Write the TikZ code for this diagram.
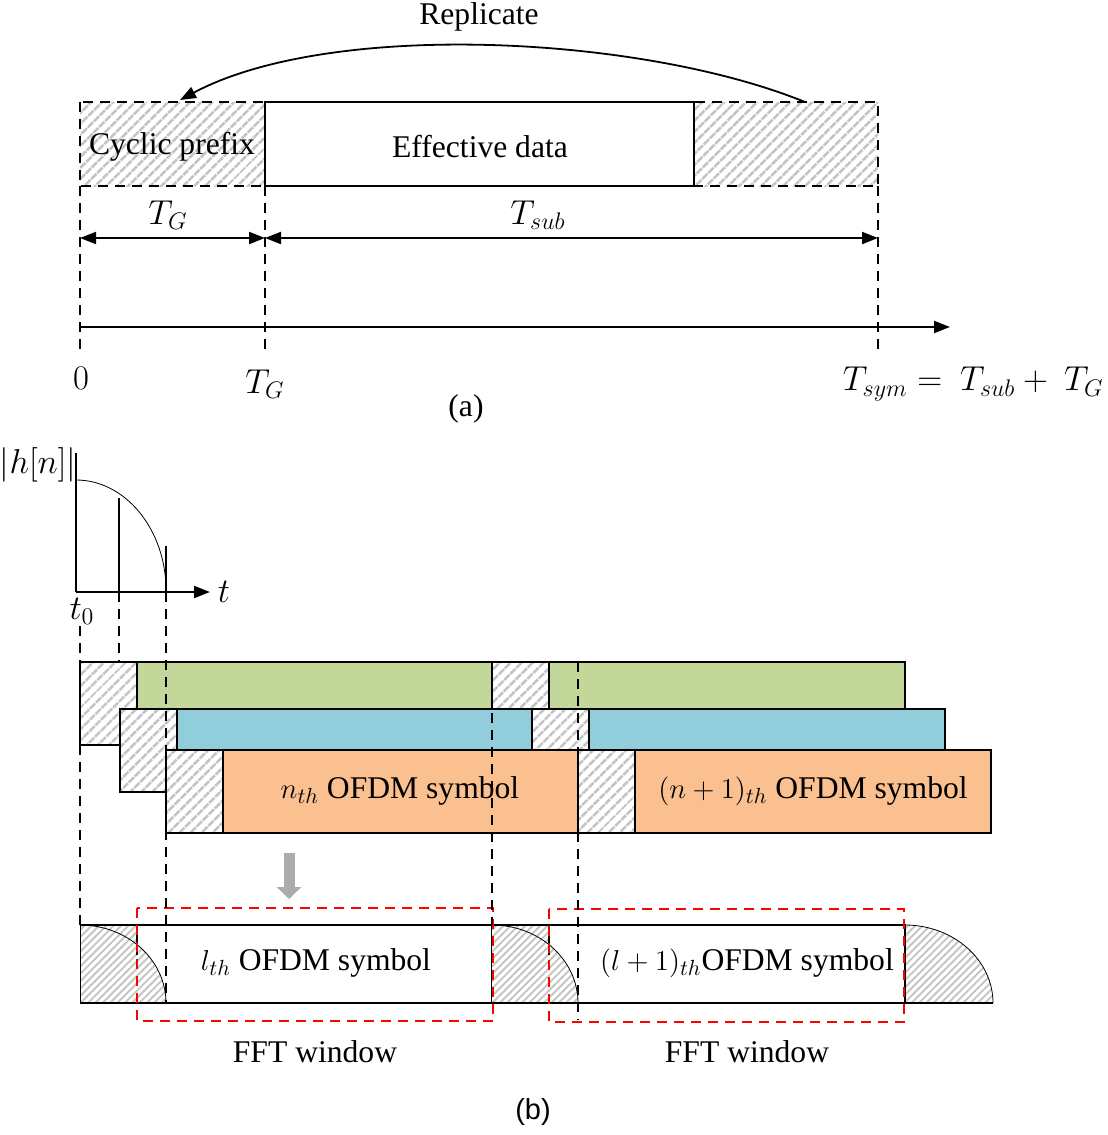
\documentclass[tikz,border=0pt]{standalone}
\usepackage{fontspec}
\setmainfont{Liberation Serif}
\setsansfont{Liberation Sans}
\usetikzlibrary{patterns.meta,arrows.meta}
\definecolor{symgreen}{HTML}{C4D79B}
\definecolor{symblue}{HTML}{92CDDC}
\definecolor{symorange}{HTML}{FAC090}
\definecolor{hatchgray}{HTML}{C4C4C4}
\begin{document}
\begin{tikzpicture}[x=0.5pt,y=-0.5pt,
  font=\fontsize{15.8}{19}\selectfont,
  hatchA/.style={pattern={Lines[angle=45,distance=4pt,line width=1.4pt]},pattern color=hatchgray},
  hatchB/.style={pattern={Lines[angle=45,distance=2.6pt,line width=0.95pt]},pattern color=hatchgray},
  boxline/.style={draw=black,line width=1.2pt},
  dline/.style={line width=1pt,dash pattern=on 5pt off 3.5pt},
  reddash/.style={draw=red,line width=1pt,dash pattern=on 5pt off 3.5pt},
  tip/.style={-{Triangle[length=8pt,width=6pt]}},
  dtip/.style={{Triangle[length=8pt,width=6pt]}-{Triangle[length=8pt,width=6pt]}},
  lbl/.style={inner sep=0pt,anchor=center},
  mlbl/.style={inner sep=0pt,anchor=center,font=\fontsize{17}{20}\selectfont}]
\useasboundingbox (0,0) rectangle (1108,1135);

% ================= (a) =================
\fill[white] (80,102) rectangle (878,186);
\fill[hatchA] (80,102) rectangle (265,186);
\fill[hatchA] (694,102) rectangle (878,186);
\draw[dline] (80,102) rectangle (878,186);
\draw[boxline,fill=white] (265,102) rectangle (694,186);
\node[lbl] (cp) at (172,147) {Cyclic prefix};
\node[lbl] (ed) at (480,147) {Effective data};

\coordinate (repS) at (805,102);
\coordinate (repE) at (180,100);
\draw[line width=0.9pt,-{Triangle[length=8pt,width=6pt]}] (repS) .. controls (640,35) and (330,20) .. (repE);
\node[lbl] (rep) at (479,17) {Replicate};

\coordinate (a0) at (80,186);
\coordinate (a1) at (265,186);
\coordinate (a2) at (878,186);
\coordinate (b0) at (80,355);
\coordinate (b1) at (265,355);
\coordinate (b2) at (878,355);
\draw[dline] (a0) -- (b0);
\draw[dline] (a1) -- (b1);
\draw[dline] (a2) -- (b2);

\coordinate (d0) at (80,238);
\coordinate (d1) at (265,238);
\coordinate (d2) at (878,238);
\draw[line width=1pt,dtip] (d0) -- (d1);
\draw[line width=1pt,dtip] (d1) -- (d2);
\node[mlbl] (tg1) at (168,215) {$T_G$};
\node[mlbl] (tsub) at (538,215) {$T_{sub}$};

\coordinate (ax0) at (80,327);
\coordinate (ax1) at (950,327);
\draw[line width=1pt,tip] (ax0) -- (ax1);
\node[mlbl] (zero) at (81,378) {$0$};
\node[mlbl] (tg2) at (265,384) {$T_G$};
\node[mlbl,anchor=east] (tsym) at (1104,384) {$T_{sym} =\ T_{sub} +\ T_G$};
\node[lbl] (capa) at (466,409) {(a)};

% ================= (b) =================
% impulse response
\coordinate (h0) at (76,453);
\coordinate (o) at (76,592);
\coordinate (tx) at (210,592);
\draw[line width=1.1pt] (h0) -- (o);
\draw[line width=1pt,tip] (o) -- (tx);
\coordinate (i1t) at (119,498);
\coordinate (i1b) at (119,592);
\coordinate (i2t) at (166,546);
\coordinate (i2b) at (166,592);
\draw[line width=1.1pt] (i1t) -- (i1b);
\draw[line width=1.1pt] (i2t) -- (i2b);
\draw[line width=0.4pt] (76,480) .. controls (125.7,480) and (166,530) .. (166,590);
\node[mlbl] (hn) at (38,465) {$|h[n]|$};
\node[mlbl] (t) at (224,592) {$t$};
\node[mlbl] (t0) at (82,611) {$t_0$};

% row 1 (green)
\fill[white] (80,662) rectangle (137,745);
\fill[hatchA] (80,662) rectangle (137,745);
\draw[boxline] (80,662) rectangle (137,745);
\draw[boxline,fill=symgreen] (137,662) rectangle (492,745);
\fill[white] (492,662) rectangle (549,745);
\fill[hatchA] (492,662) rectangle (549,745);
\draw[boxline] (492,662) rectangle (549,745);
\draw[boxline,fill=symgreen] (549,662) rectangle (905,745);

% row 2 (blue)
\fill[white] (120,709) rectangle (177,792);
\fill[hatchA] (120,709) rectangle (177,792);
\draw[boxline] (120,709) rectangle (177,792);
\draw[boxline,fill=symblue] (177,709) rectangle (532,792);
\fill[white] (532,709) rectangle (589,792);
\fill[hatchA] (532,709) rectangle (589,792);
\draw[boxline] (532,709) rectangle (589,792);
\draw[boxline,fill=symblue] (589,709) rectangle (945,792);

% row 3 (orange)
\fill[white] (166,750) rectangle (223,833);
\fill[hatchA] (166,750) rectangle (223,833);
\draw[boxline] (166,750) rectangle (223,833);
\draw[boxline,fill=symorange] (223,750) rectangle (578,833);
\fill[white] (578,750) rectangle (635,833);
\fill[hatchA] (578,750) rectangle (635,833);
\draw[boxline] (578,750) rectangle (635,833);
\draw[boxline,fill=symorange] (635,750) rectangle (991,833);
\node[lbl] (nsym) at (400,791) {$n_{th}$ OFDM symbol};
\node[lbl] (n1sym) at (813,791) {$(n+1)_{th}$ OFDM symbol};

% gray arrow
\coordinate (ga0) at (289,853);
\coordinate (ga1) at (289,899);
\draw[line width=5.5pt,draw=gray!65,-{Triangle[length=6pt,width=12pt]}] (ga0) -- (ga1);

% bottom row
\draw[boxline,fill=white] (137,925) rectangle (492,1003);
\draw[boxline,fill=white] (549,925) rectangle (905,1003);
\fill[white] (80,925) -- (137,925) -- (137,1003) -- (80,1003) -- cycle;
\fill[hatchB] (80,925) -- (137,925) -- (137,1003) -- (80,1003) -- cycle;
\fill[white] (80,925) .. controls (127.5,925) and (166,960) .. (166,1003) -- (80,1003) -- cycle;
\fill[hatchB] (80,925) .. controls (127.5,925) and (166,960) .. (166,1003) -- (80,1003) -- cycle;
\draw[line width=0.4pt] (80,925) .. controls (127.5,925) and (166,960) .. (166,1003);
\draw[line width=0.4pt] (80,925) -- (80,1003);
\draw[boxline] (80,925) -- (137,925) -- (137,955);

\fill[white] (492,925) rectangle (549,1003);
\fill[hatchB] (492,925) rectangle (549,1003);
\fill[white] (492,925) .. controls (539.5,925) and (578,960) .. (578,1003) -- (492,1003) -- cycle;
\fill[hatchB] (492,925) .. controls (539.5,925) and (578,960) .. (578,1003) -- (492,1003) -- cycle;
\draw[line width=0.4pt] (492,925) .. controls (539.5,925) and (578,960) .. (578,1003);
\draw[boxline] (492,925) -- (549,925) -- (549,955);

\fill[hatchB] (905,925) .. controls (953.6,925) and (993,960) .. (993,1003) -- (905,1003) -- cycle;
\draw[line width=0.4pt] (905,925) .. controls (953.6,925) and (993,960) .. (993,1003);
\draw[boxline] (905,925) -- (905,1003);
\draw[boxline] (80,1003) -- (993,1003);

\node[lbl] (lsym) at (316,963) {$l_{th}$ OFDM symbol};
\node[lbl] (l1sym) at (747,963) {$(l+1)_{th}$OFDM symbol};

% FFT windows
\draw[reddash] (137,908) rectangle (493,1021);
\draw[reddash] (549,909) rectangle (904,1022);
\node[lbl] (fft1) at (315,1052) {FFT window};
\node[lbl] (fft2) at (747,1052) {FFT window};
\node[lbl,font=\sffamily\fontsize{14.5}{17}\selectfont] (capb) at (533,1112) {(b)};

% vertical dashed guides
\coordinate (v0a) at (80,626);
\coordinate (v0b) at (80,925);
\coordinate (v1a) at (119,592);
\coordinate (v1b) at (119,662);
\coordinate (v2a) at (166,592);
\coordinate (v2b) at (166,1003);
\coordinate (v3a) at (492,662);
\coordinate (v3b) at (492,925);
\coordinate (v4a) at (578,662);
\coordinate (v4b) at (578,1020);
\draw[dline] (v0a) -- (v0b);
\draw[dline] (v1a) -- (v1b);
\draw[dline] (v2a) -- (v2b);
\draw[dline] (v3a) -- (v3b);
\draw[dline] (v4a) -- (v4b);
\end{tikzpicture}
\end{document}
